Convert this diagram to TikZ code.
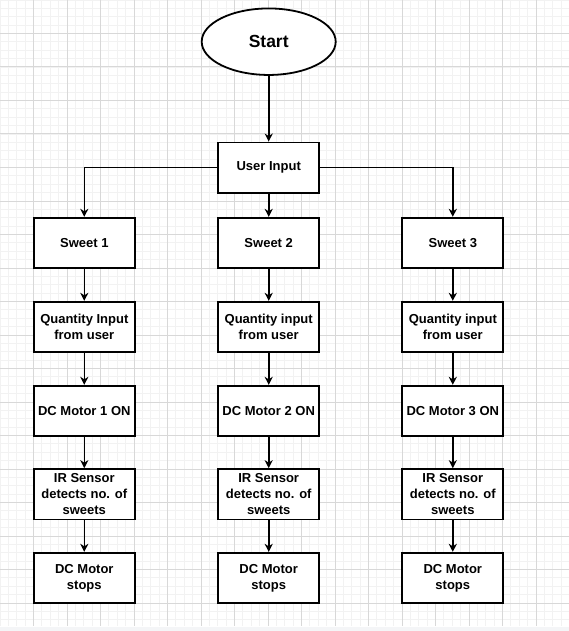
\documentclass[tikz,border=0pt]{standalone}
\usepackage{fontspec}
\setmainfont{Liberation Sans}
\usetikzlibrary{shapes.geometric,arrows.meta}
\definecolor{gridmajor}{HTML}{D8D8D8}
\definecolor{gridminor}{HTML}{F2F2F2}
\definecolor{footband}{HTML}{F4F5F7}
\tikzset{
  stepbox/.style={draw=black, line width=1.8pt, fill=white, minimum width=101pt,
    minimum height=50.5pt, inner sep=1pt, align=center,
    font=\fontsize{13}{16}\selectfont\bfseries},
  startshape/.style={ellipse, draw=black, line width=1.8pt, fill=white,
    minimum width=134pt, minimum height=66.5pt,
    font=\fontsize{17.5}{20}\selectfont\bfseries},
  arr/.style={draw=black, line width=1.6pt,
    -{Stealth[length=8pt,width=8pt,inset=2.5pt]}},
}
\begin{document}
\begin{tikzpicture}[x=1pt,y=-1pt]
\useasboundingbox (0,0) rectangle (569,631);
% page background and grid
\fill[white] (0,0) rectangle (569,631);
\fill[footband] (0,626.5) rectangle (569,631);
\foreach \i in {0,...,68}{
  \draw[gridminor, line width=0.8pt] ({\i*8.375},0) -- ({\i*8.375},626);
}
\foreach \j in {0,...,74}{
  \draw[gridminor, line width=0.8pt] (0,{\j*8.375}) -- (569,{\j*8.375});
}
\foreach \i in {1,...,16}{
  \draw[gridmajor, line width=1pt] ({\i*33.5},0) -- ({\i*33.5},626);
}
\foreach \j in {1,...,18}{
  \draw[gridmajor, line width=1pt] (0,{\j*33.5}) -- (569,{\j*33.5});
}
% flowchart nodes
\node[startshape] (start) at (268.7,41.7) {Start};
\node[stepbox] (ui) at (268.7,167.7) {User Input};

\node[stepbox] (s1) at (84.3,243) {Sweet 1};
\node[stepbox] (s2) at (268.7,243) {Sweet 2};
\node[stepbox] (s3) at (452.8,243) {Sweet 3};

\node[stepbox] (q1) at (84.3,327) {Quantity Input\\from user};
\node[stepbox] (q2) at (268.7,327) {Quantity input\\from user};
\node[stepbox] (q3) at (452.8,327) {Quantity input\\from user};

\node[stepbox] (m1) at (84.3,411) {DC Motor 1 ON};
\node[stepbox] (m2) at (268.7,411) {DC Motor 2 ON};
\node[stepbox] (m3) at (452.8,411) {DC Motor 3 ON};

\node[stepbox] (r1) at (84.3,494.3) {IR Sensor\\detects no. of\\sweets};
\node[stepbox] (r2) at (268.7,494.3) {IR Sensor\\detects no. of\\sweets};
\node[stepbox] (r3) at (452.8,494.3) {IR Sensor\\detects no. of\\sweets};

\node[stepbox] (d1) at (84.3,578) {DC Motor\\stops};
\node[stepbox] (d2) at (268.7,578) {DC Motor\\stops};
\node[stepbox] (d3) at (452.8,578) {DC Motor\\stops};

% connectors
\draw[arr] (start) -- (ui);
\draw[arr] (ui.west) -| (s1.north);
\draw[arr] (ui) -- (s2);
\draw[arr] (ui.east) -| (s3.north);
\foreach \c in {1,2,3}{
  \draw[arr] (s\c) -- (q\c);
  \draw[arr] (q\c) -- (m\c);
  \draw[arr] (m\c) -- (r\c);
  \draw[arr] (r\c) -- (d\c);
}
\end{tikzpicture}
\end{document}
